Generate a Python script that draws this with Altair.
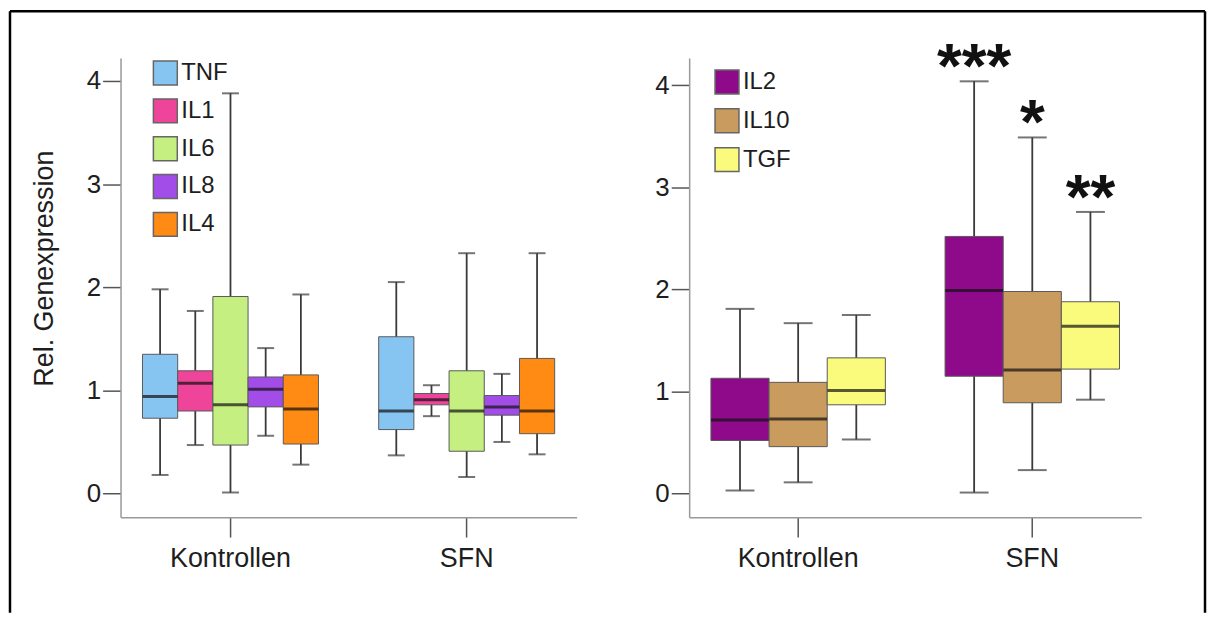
import altair as alt
import pandas as pd

groups = ["Kontrollen", "SFN"]

left_genes = ["TNF", "IL1", "IL6", "IL8", "IL4"]
left_colors = ["#86C4F2", "#EE4499", "#C6EF82", "#A24DE8", "#FF8B14"]
# order: for each gene Kontrollen, then SFN
left_low = [0.18, 0.37, 0.47, 0.75, 0.01, 0.16, 0.56, 0.50, 0.28, 0.38]
left_q1 = [0.73, 0.62, 0.80, 0.86, 0.47, 0.41, 0.84, 0.76, 0.48, 0.58]
left_med = [0.94, 0.80, 1.07, 0.91, 0.86, 0.80, 1.01, 0.84, 0.82, 0.80]
left_q3 = [1.35, 1.52, 1.19, 0.97, 1.91, 1.19, 1.13, 0.95, 1.15, 1.31]
left_high = [1.98, 2.05, 1.77, 1.05, 3.88, 2.33, 1.41, 1.16, 1.93, 2.33]

right_genes = ["IL2", "IL10", "TGF"]
right_colors = ["#8E0A8A", "#C99B5E", "#FAFA7C"]
right_low = [0.03, 0.01, 0.11, 0.23, 0.53, 0.92]
right_q1 = [0.52, 1.15, 0.46, 0.89, 0.87, 1.22]
right_med = [0.72, 1.99, 0.73, 1.21, 1.01, 1.64]
right_q3 = [1.13, 2.52, 1.09, 1.98, 1.33, 1.88]
right_high = [1.81, 4.04, 1.67, 3.49, 1.75, 2.76]

star_group = ["SFN", "SFN", "SFN"]
star_genes = ["IL2", "IL10", "TGF"]
star_labels = ["***", "*", "**"]
star_anchor = [4.04, 3.49, 2.76]

y_ticks = [0, 1, 2, 3, 4]

FONT = "Liberation Sans"
TXT = "#1e1e1e"


def make_df(genes, low, q1, med, q3, high):
    return pd.DataFrame({
        "group": [g for _ in genes for g in groups],
        "gene": [gene for gene in genes for _ in groups],
        "lo": low, "q1": q1, "med": med, "q3": q3, "hi": high,
    })


def panel(genes, colors, low, q1, med, q3, high, width, ydom, cap, boxw,
          lx, ly, rowpad, ytitle, extra=None):
    df = make_df(genes, low, q1, med, q3, high)
    base = alt.Chart(df)
    xscale = alt.Scale(domain=groups, paddingInner=0.255, paddingOuter=0.093)
    yscale = alt.Scale(domain=ydom, nice=False, zero=False)
    xo = alt.XOffset("gene:N", sort=genes,
                     scale=alt.Scale(domain=genes, paddingInner=0, paddingOuter=0))
    yaxis_kw = dict(values=y_ticks, tickSize=18, tickWidth=1.5, tickColor="#555555",
                    domainColor="#999999", domainWidth=1.5, labelFontSize=26,
                    labelFont=FONT, labelColor=TXT, labelPadding=2, grid=False,
                    format="d")
    if ytitle:
        yaxis = alt.Axis(title=ytitle, titleFontSize=27, titleFont=FONT,
                         titleFontWeight="normal", titleColor=TXT,
                         titleX=-76, titleY=211, titleBaseline="middle",
                         titleAlign="center", **yaxis_kw)
    else:
        yaxis = alt.Axis(title=None, **yaxis_kw)
    xaxis = alt.Axis(title=None, labelAngle=0, tickSize=20, tickWidth=1.5,
                     tickColor="#555555", domainColor="#999999", domainWidth=1.5,
                     labelFontSize=27, labelFont=FONT, labelColor=TXT,
                     labelPadding=9, grid=False)

    def X():
        return alt.X("group:N", sort=groups, scale=xscale, axis=xaxis)

    def Y(field):
        return alt.Y(field, scale=yscale, axis=yaxis)

    whisk = base.mark_rule(color="#3a3a3a", strokeWidth=1.8).encode(
        x=X(), xOffset=xo, y=Y("lo:Q"), y2="hi:Q",
    )
    boxes = base.mark_bar(stroke="#5a5a5a", strokeWidth=1).encode(
        x=X(), xOffset=xo, y=Y("q1:Q"), y2="q3:Q",
        color=alt.Color("gene:N", sort=genes,
                        scale=alt.Scale(domain=genes, range=colors),
                        legend=alt.Legend(title=None, orient="none", legendX=lx,
                                          legendY=ly, symbolType="square",
                                          symbolSize=576, symbolStrokeColor="#666666",
                                          symbolStrokeWidth=1.5, labelFontSize=24,
                                          labelFont=FONT, labelColor=TXT,
                                          labelOffset=3, rowPadding=rowpad,
                                          padding=0)),
    )
    medians = base.mark_tick(color="#111111", thickness=3, size=boxw).encode(
        x=X(), xOffset=xo, y=Y("med:Q"),
    )
    caps_hi = base.mark_tick(color="#3a3a3a", thickness=2, size=cap).encode(
        x=X(), xOffset=xo, y=Y("hi:Q"),
    )
    caps_lo = base.mark_tick(color="#3a3a3a", thickness=2, size=cap).encode(
        x=X(), xOffset=xo, y=Y("lo:Q"),
    )
    layers = [whisk, boxes, medians, caps_hi, caps_lo]
    if extra is not None:
        layers += extra(X, Y, xo)
    return alt.layer(*layers).properties(width=width, height=461)


def frame_layers(X, Y, xo):
    one = alt.Chart(pd.DataFrame({"k": [0]}))
    top = one.mark_rule(color="black", strokeWidth=2.5).encode(
        x=alt.value(-111), x2=alt.value(1089), y=alt.value(-47))
    left = one.mark_rule(color="black", strokeWidth=2.5).encode(
        x=alt.value(-111), y=alt.value(-47), y2=alt.value(557))
    right = one.mark_rule(color="black", strokeWidth=2.5).encode(
        x=alt.value(1089), y=alt.value(-47), y2=alt.value(557))
    return [top, left, right]


def star_layers(X, Y, xo):
    sdf = pd.DataFrame({"group": star_group, "gene": star_genes,
                        "label": star_labels, "hi": star_anchor})
    stars = alt.Chart(sdf).mark_text(fontSize=64, fontWeight="bold", font=FONT,
                                     color="#111111", dy=6, baseline="alphabetic",
                                     align="center").encode(
        x=X(), xOffset=xo, y=Y("hi:Q"), text="label:N",
    )
    return [stars]


left_chart = panel(left_genes, left_colors, left_low, left_q1, left_med, left_q3,
                   left_high, 458, [-0.229, 4.222], 17, 35, 32, 2, 8,
                   "Rel. Genexpression", frame_layers)
right_chart = panel(right_genes, right_colors, right_low, right_q1, right_med,
                    right_q3, right_high, 454, [-0.231, 4.268], 29, 58, 25, 11, 9,
                    None, star_layers)

chart = alt.hconcat(left_chart, right_chart, spacing=113, bounds="flush").resolve_scale(
    color="independent", x="independent", y="independent", xOffset="independent"
).resolve_legend(color="independent").properties(
    padding=0, background="white"
).configure_view(stroke="transparent", strokeWidth=0)

chart.save("out.html", embed_options={"renderer": "svg", "actions": False})
